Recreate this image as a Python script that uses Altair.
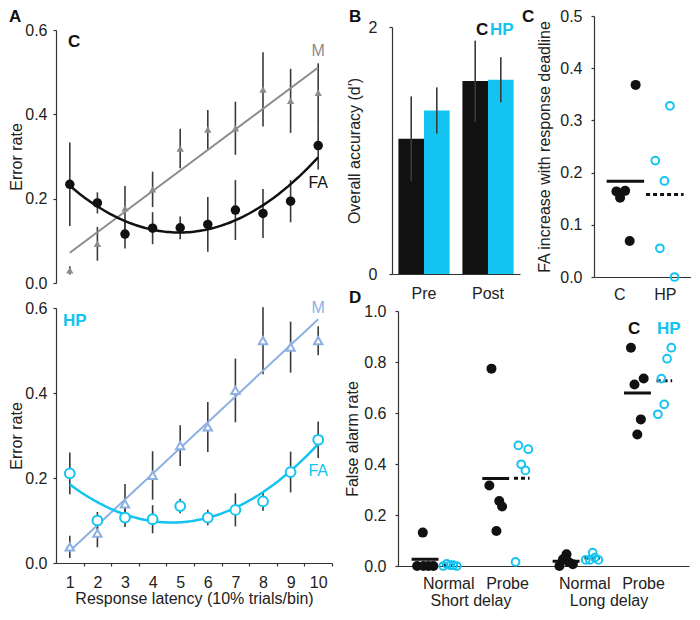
import altair as alt
import pandas as pd

FONT = "Liberation Sans"
INK = "#111111"
GRAY = "#8c8c8c"
CYAN = "#14c4f0"
LBLUE = "#8db0e2"
BAR = "#3a3a3a"

# ---------------- Panel A data ----------------
bins = [1, 2, 3, 4, 5, 6, 7, 8, 9, 10]
c_fa = [0.234, 0.190, 0.116, 0.130, 0.131, 0.139, 0.173, 0.165, 0.194, 0.326]
c_fa_se = [0.099, 0.025, 0.034, 0.038, 0.027, 0.065, 0.071, 0.058, 0.050, 0.057]
c_m = [0.030, 0.093, 0.177, 0.222, 0.319, 0.364, 0.367, 0.459, 0.432, 0.451]
c_m_se = [0.010, 0.040, 0.053, 0.042, 0.047, 0.046, 0.063, 0.088, 0.076, 0.070]
hp_fa = [0.211, 0.100, 0.107, 0.103, 0.134, 0.107, 0.125, 0.145, 0.214, 0.290]
hp_fa_se = [0.049, 0.020, 0.022, 0.033, 0.017, 0.018, 0.039, 0.022, 0.048, 0.043]
hp_m = [0.038, 0.070, 0.139, 0.206, 0.276, 0.320, 0.406, 0.523, 0.508, 0.523]
hp_m_se = [0.026, 0.033, 0.047, 0.057, 0.048, 0.059, 0.075, 0.079, 0.060, 0.034]
x_ticks_A = [1.5, 2.5, 3.5, 4.5, 5.5, 6.5, 7.5, 8.5, 9.5, 10.5]

# ---------------- Panel B data ----------------
periods = ["Pre", "Pre", "Post", "Post"]
b_groups = ["C", "HP", "C", "HP"]
acc = [1.095, 1.324, 1.562, 1.573]
acc_se = [0.343, 0.187, 0.328, 0.183]

# ---------------- Panel C data ----------------
inc_groups = ["C"] * 5 + ["HP"] * 5
inc_pos = [1.36, 0.94, 1.02, 1.13, 1.23, 2.11, 1.79, 1.99, 1.89, 2.21]
inc_val = [0.368, 0.164, 0.152, 0.165, 0.069, 0.328, 0.223, 0.184, 0.055, 0.0]

# ---------------- Panel D data ----------------
d_cond = ["SN"] * 10 + ["SP"] * 10 + ["LN"] * 10 + ["LP"] * 10
d_groups = (["C"] * 5 + ["HP"] * 5) * 4
d_pos = [0.27, 0.35, 0.36, 0.43, 0.50, 0.64, 0.69, 0.74, 0.78, 0.83,
         1.32, 1.29, 1.43, 1.47, 1.39, 1.70, 1.84, 1.74, 1.80, 1.66,
         2.28, 2.38, 2.33, 2.47, 2.41, 2.65, 2.75, 2.83, 2.71, 2.78,
         3.29, 3.34, 3.47, 3.43, 3.38, 3.86, 3.80, 3.72, 3.76, 3.67]
d_rate = [0.0, 0.131, 0.0, 0.0, 0.0, 0.0, 0.008, 0.003, 0.003, 0.0,
          0.774, 0.316, 0.255, 0.233, 0.137, 0.473, 0.458, 0.399, 0.375, 0.016,
          0.0, 0.046, 0.026, 0.007, 0.016, 0.024, 0.052, 0.024, 0.024, 0.033,
          0.856, 0.712, 0.735, 0.575, 0.516, 0.856, 0.813, 0.735, 0.634, 0.595]
d_tick_pos = [0.71, 1.54, 2.63, 3.46]
d_group_lab = ["Short delay", "Long delay"]
d_group_pos = [1.03, 2.98]


def txt(t, x, y, color=INK, size=17, weight="bold", align="left", baseline="middle"):
    return alt.Chart(pd.DataFrame({"t": [t]})).mark_text(
        font=FONT, fontSize=size, fontWeight=weight, color=color,
        align=align, baseline=baseline
    ).encode(text="t:N", x=alt.value(x), y=alt.value(y))


def latency_panel(fa, fa_se, m, m_se, fa_col, m_col, fa_lab_y, m_lab_y,
                  open_marks, extras, height, y_range, x_axis, x_title):
    df = pd.DataFrame({
        "bin": bins + bins,
        "series": ["FA"] * 10 + ["M"] * 10,
        "rate": fa + m,
        "se": fa_se + m_se,
    })
    skw = dict(domain=[0, 0.6], nice=False, zero=True)
    if y_range is not None:
        skw["range"] = y_range
    ysc = alt.Scale(**skw)
    yax = alt.Axis(values=[0, 0.2, 0.4, 0.6], format=".1f", tickSize=3,
                   labelPadding=6, titlePadding=0)
    x = alt.X("bin:Q", scale=alt.Scale(domain=[0.5, 10.5], nice=False, zero=False),
              axis=x_axis, title=x_title)
    y = alt.Y("rate:Q", scale=ysc, axis=yax, title="Error rate")
    ylo = alt.Y("lo:Q", scale=ysc, axis=yax, title="Error rate")

    base = alt.Chart(df)
    err = base.transform_calculate(
        lo="datum.rate - datum.se", hi="datum.rate + datum.se"
    ).mark_rule(color=BAR, strokeWidth=1.6).encode(x=x, y=ylo, y2="hi:Q")
    mfit = base.transform_filter("datum.series == 'M'").transform_regression(
        "bin", "rate", method="linear", extent=[1, 10]
    ).mark_line(color=m_col, strokeWidth=2).encode(x=x, y=y)
    fafit = base.transform_filter("datum.series == 'FA'").transform_regression(
        "bin", "rate", method="poly", order=2, extent=[1, 10]
    ).mark_line(color=fa_col, strokeWidth=2.5).encode(x=x, y=y)
    if open_marks:
        mpts = base.transform_filter("datum.series == 'M'").mark_point(
            shape="triangle-up", size=70, fill="white", fillOpacity=1,
            stroke=m_col, strokeWidth=2, opacity=1).encode(x=x, y=y)
        fpts = base.transform_filter("datum.series == 'FA'").mark_point(
            shape="circle", size=95, fill="white", fillOpacity=1,
            stroke=fa_col, strokeWidth=2, opacity=1).encode(x=x, y=y)
    else:
        mpts = base.transform_filter("datum.series == 'M'").mark_point(
            shape="triangle-up", size=55, filled=True, color=m_col,
            opacity=1).encode(x=x, y=y)
        fpts = base.transform_filter("datum.series == 'FA'").mark_point(
            shape="circle", size=90, filled=True, color=INK,
            opacity=1).encode(x=x, y=y)
    lab_df = pd.DataFrame({"bin": [10, 10], "rate": [m_lab_y, fa_lab_y],
                           "lab": ["M", "FA"]})
    lab_m = alt.Chart(lab_df).transform_filter("datum.lab == 'M'").mark_text(
        font=FONT, fontSize=16, color=m_col).encode(x=x, y=y, text="lab:N")
    lab_f = alt.Chart(lab_df).transform_filter("datum.lab == 'FA'").mark_text(
        font=FONT, fontSize=16, color=fa_col).encode(x=x, y=y, text="lab:N")
    return alt.layer(err, mfit, fafit, mpts, fpts, lab_m, lab_f, *extras).properties(
        width=276, height=height)


A_top = latency_panel(
    c_fa, c_fa_se, c_m, c_m_se, INK, GRAY, 0.237, 0.55, False,
    [txt("C", 12, 26), txt("A", -47, -7, baseline="top")],
    267, [267, 14], None, None)

A_bot = latency_panel(
    hp_fa, hp_fa_se, hp_m, hp_m_se, CYAN, LBLUE, 0.216, 0.60, True,
    [txt("HP", 7, 13, color=CYAN)],
    255, None,
    alt.Axis(values=x_ticks_A, labelExpr="format(datum.value - 0.5, 'd')",
             labelOffset=-13.8, tickSize=3, labelPadding=8, titlePadding=0,
             labelFlush=False, labelOverlap=False),
    "Response latency (10% trials/bin)")

# ---------------- Panel B ----------------
dfB = pd.DataFrame({"period": periods, "group": b_groups, "acc": acc, "se": acc_se})
xB = alt.X("period:N", sort=["Pre", "Post"],
           scale=alt.Scale(paddingInner=0.2, paddingOuter=0.1),
           axis=alt.Axis(title=None, labelAngle=0, ticks=False, tickSize=0,
                         labelPadding=11))
xoffB = alt.XOffset("group:N", sort=["C", "HP"],
                    scale=alt.Scale(paddingInner=0, paddingOuter=0))
yscB = alt.Scale(domain=[0, 2], range=[258, 11], nice=False)
yaxB = alt.Axis(values=[0, 1, 2], format="d", tickSize=3, labelPadding=12,
                titlePadding=6)
yB = alt.Y("acc:Q", scale=yscB, axis=yaxB, title="Overall accuracy (d′)")
barsB_c = alt.Chart(dfB).transform_filter("datum.group == 'C'").mark_bar(
    color=INK).encode(x=xB, xOffset=xoffB, y=yB)
barsB_h = alt.Chart(dfB).transform_filter("datum.group == 'HP'").mark_bar(
    color=CYAN).encode(x=xB, xOffset=xoffB, y=yB)
errB = alt.Chart(dfB).transform_calculate(
    lo="datum.acc - datum.se", hi="datum.acc + datum.se"
).mark_rule(color=BAR, strokeWidth=1.6).encode(
    x=xB, xOffset=xoffB,
    y=alt.Y("lo:Q", scale=yscB, axis=yaxB, title="Overall accuracy (d′)"),
    y2="hi:Q")
B = alt.layer(
    barsB_c, barsB_h, errB,
    txt("C", 84, 14), txt("HP", 98, 14, color=CYAN),
    txt("B", -43, -7, baseline="top"), txt("D", -43, 274, baseline="top"),
).properties(width=128, height=258)

# ---------------- Panel C ----------------
dfC = pd.DataFrame({"group": inc_groups, "pos": inc_pos, "val": inc_val})
xC = alt.X("pos:Q", scale=alt.Scale(domain=[0.45, 2.57], nice=False, zero=False),
           axis=alt.Axis(values=[1, 2], labelExpr="datum.value == 1 ? 'C' : 'HP'",
                         ticks=False, tickSize=0, labelPadding=9,
                         labelFlush=False), title=None)
yscC = alt.Scale(domain=[0, 0.5], nice=False)
yaxC = alt.Axis(values=[0, 0.1, 0.2, 0.3, 0.4, 0.5], format=".1f", tickSize=3,
                labelPadding=9, titlePadding=7)
yC = alt.Y("val:Q", scale=yscC, axis=yaxC, title="FA increase with response deadline")
meanC = alt.Chart(dfC).transform_aggregate(
    mx="mean(pos)", val="mean(val)", groupby=["group"]
).transform_calculate(
    pos="datum.mx - 0.41", pos2="datum.mx + 0.41"
).mark_rule(color=INK, strokeWidth=3).encode(
    x=xC, x2="pos2:Q", y=yC,
    strokeDash=alt.StrokeDash("group:N", scale=alt.Scale(domain=["C", "HP"],
                                                          range=[[1, 0], [4, 3]]),
                              legend=None))
ptsC_c = alt.Chart(dfC).transform_filter("datum.group == 'C'").mark_point(
    shape="circle", size=100, filled=True, color=INK, opacity=1).encode(x=xC, y=yC)
ptsC_h = alt.Chart(dfC).transform_filter("datum.group == 'HP'").mark_point(
    shape="circle", size=60, filled=False, color=CYAN, strokeWidth=2,
    opacity=1).encode(x=xC, y=yC)
C = alt.layer(meanC, ptsC_c, ptsC_h, txt("C", -72, -7, baseline="top")).properties(
    width=97, height=261)

# ---------------- Panel D ----------------
dfD = pd.DataFrame({"cond": d_cond, "group": d_groups, "pos": d_pos, "rate": d_rate})
xD = alt.X("pos:Q", scale=alt.Scale(domain=[0, 4.11], range=[6, 297], nice=False,
                                    zero=False),
           axis=alt.Axis(values=d_tick_pos,
                         labelExpr="datum.value < 1 ? 'Normal' : datum.value < 2 ? 'Probe' : datum.value < 3 ? 'Normal' : 'Probe'",
                         ticks=False, tickSize=0, labelPadding=9, labelFlush=False,
                         labelOverlap=False),
           title=None)
yscD = alt.Scale(domain=[0, 1], nice=False)
yaxD = alt.Axis(values=[0, 0.2, 0.4, 0.6, 0.8, 1.0], format=".1f", tickSize=3,
                labelPadding=9, titlePadding=3, offset=-6)
yD = alt.Y("rate:Q", scale=yscD, axis=yaxD, title="False alarm rate")
meanD = alt.Chart(dfD).transform_aggregate(
    mx="mean(pos)", rate="mean(rate)", groupby=["cond", "group"]
).transform_calculate(
    hw="datum.group == 'C' ? 0.19 : 0.11"
).transform_calculate(
    pos="datum.mx - datum.hw", pos2="datum.mx + datum.hw"
).mark_rule(color=INK, strokeWidth=3).encode(
    x=xD, x2="pos2:Q", y=yD,
    strokeDash=alt.StrokeDash("group:N", scale=alt.Scale(domain=["C", "HP"],
                                                          range=[[1, 0], [4, 3]]),
                              legend=None))
ptsD_c = alt.Chart(dfD).transform_filter("datum.group == 'C'").mark_point(
    shape="circle", size=100, filled=True, color=INK, opacity=1).encode(x=xD, y=yD)
ptsD_h = alt.Chart(dfD).transform_filter("datum.group == 'HP'").mark_point(
    shape="circle", size=60, filled=False, color=CYAN, strokeWidth=2,
    opacity=1).encode(x=xD, y=yD)
grpD = alt.Chart(pd.DataFrame({"pos": d_group_pos, "t": d_group_lab})).mark_text(
    font=FONT, fontSize=16, color="#222", baseline="middle").encode(
    x=xD, y=alt.value(290), text="t:N")
D = alt.layer(meanD, ptsD_c, ptsD_h, grpD,
              txt("C", 236, 18), txt("HP", 265, 18, color=CYAN)).properties(
    width=297, height=255)

left = alt.vconcat(A_top, A_bot, spacing=25, bounds="flush")
top_right = alt.hconcat(B, C, spacing=74, bounds="flush")
right = alt.vconcat(top_right, D, spacing=-3)

chart = alt.hconcat(left, right, spacing=11).properties(padding=0).configure(
    font=FONT
).configure_axis(
    labelFont=FONT, titleFont=FONT, labelFontSize=16, titleFontSize=16,
    titleFontWeight="normal", labelColor="#222", titleColor="#222",
    domainColor="#333", tickColor="#333", domainWidth=1.2, tickWidth=1.2,
    grid=False
).configure_view(stroke=None)

chart.save("out.html", embed_options={"renderer": "svg", "actions": False})
